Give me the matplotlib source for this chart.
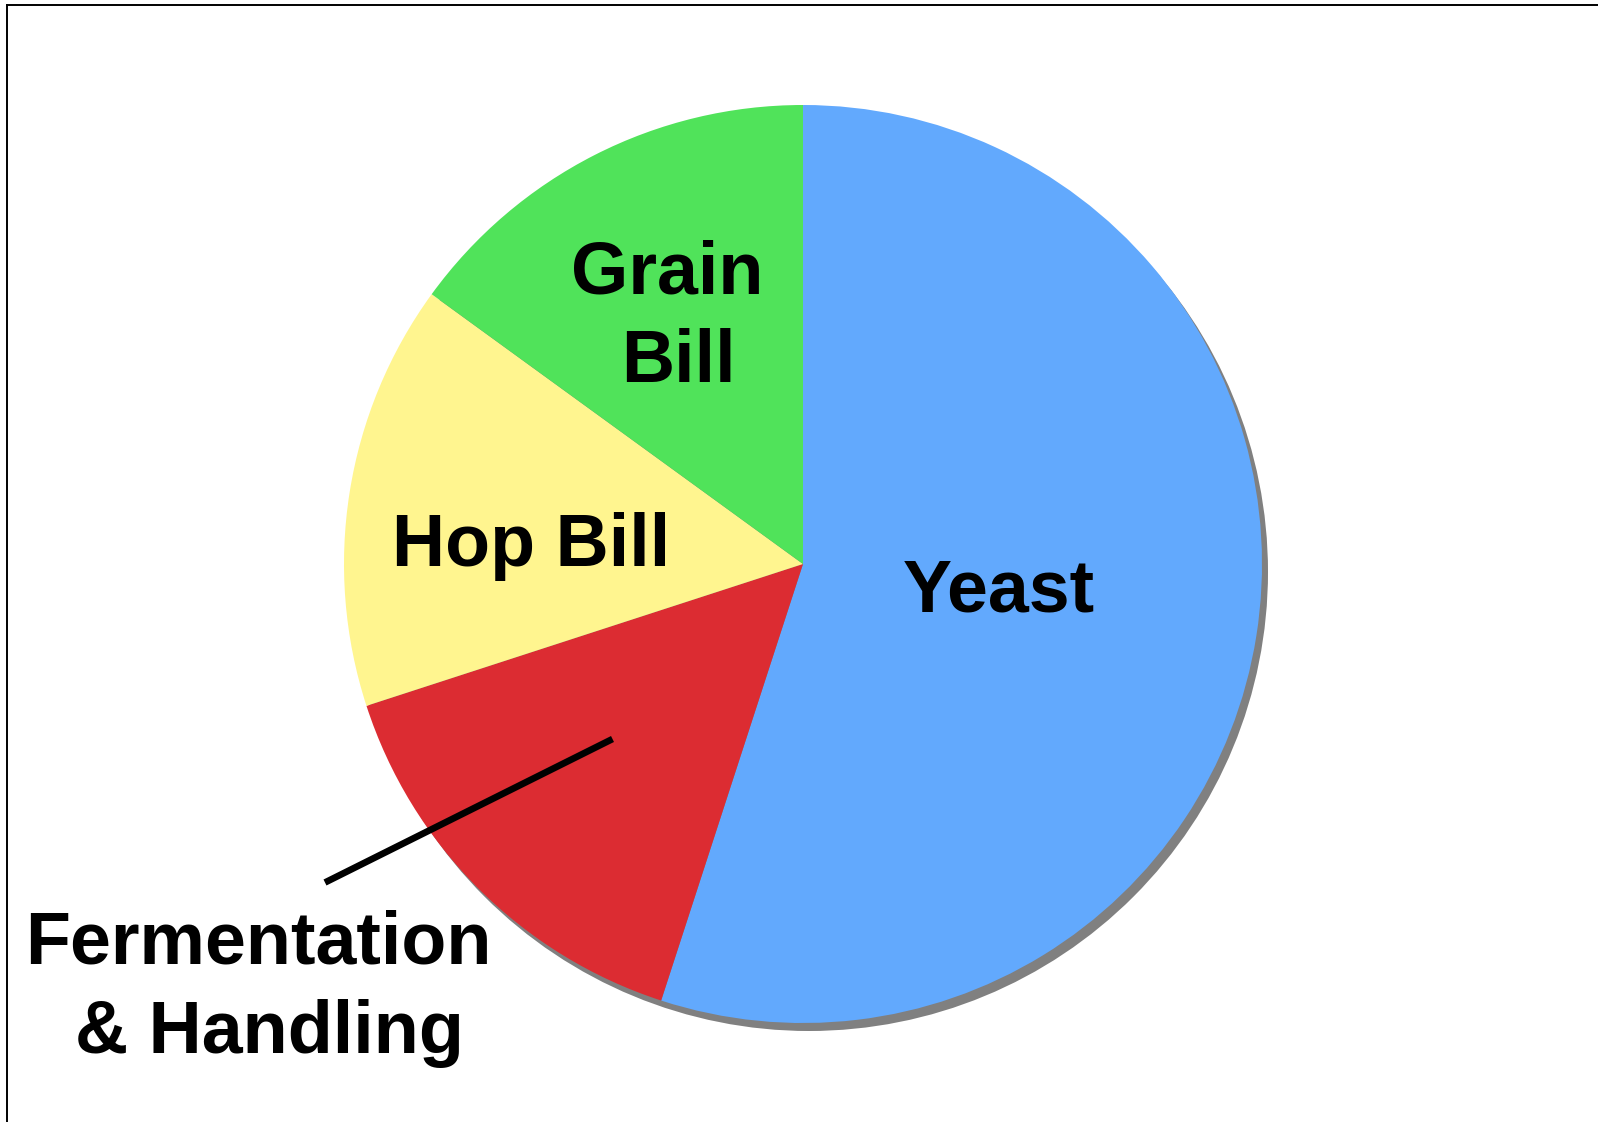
import matplotlib
matplotlib.use("Agg")
import matplotlib.pyplot as plt
from matplotlib.patches import Circle

categories = ["Yeast", "Fermentation\n& Handling", "Hop Bill", "Grain Bill"]
values = [55, 15, 15, 15]
colors = ["#62A9FD", "#DC2C32", "#FFF58F", "#50E35A"]

W, H = 1598, 1122
fig = plt.figure(figsize=(W / 100, H / 100), dpi=100)
ax = fig.add_axes([0, 0, 1, 1])

cx, cy, r = 803, H - 564, 459

# shadow
ax.add_patch(Circle((cx + 6, cy - 8), r, facecolor="#808080", edgecolor="none", zorder=0))

ax.pie(values, colors=colors, startangle=90, counterclock=False,
       center=(cx, cy), radius=r, wedgeprops=dict(linewidth=0), frame=True)
ax.set_xlim(0, W)
ax.set_ylim(0, H)
ax.set_aspect("equal")
ax.axis("off")

font = dict(family=["Liberation Sans", "DejaVu Sans"], fontweight="bold", fontsize=53,
            color="black", ha="center", va="baseline", zorder=5)

ax.text(999, H - 612, "Yeast", **font)
ax.text(531, H - 566, "Hop Bill", **font)
ax.text(667, H - 293, "Grain", **font)
ax.text(678, H - 382, "Bill", **font)
ax.text(258, H - 964, "Fermentation", **font)
ax.text(269, H - 1053, "& Handling", **font)

# leader line
ax.plot([325, 612.5], [H - 882.5, H - 739], color="black", lw=4.8,
        solid_capstyle="butt", zorder=6)

# border lines (top and left)
ax.plot([7, W], [H - 5, H - 5], color="black", lw=1.4, zorder=7)
ax.plot([7, 7], [H - 5, 0], color="black", lw=1.4, zorder=7)

fig.savefig("out.png", dpi=100)
